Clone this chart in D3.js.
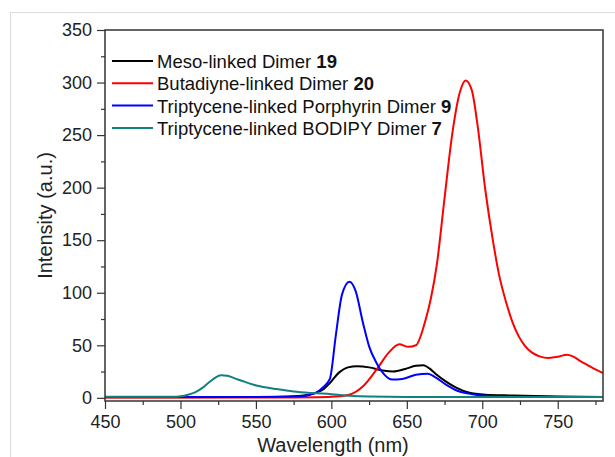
<!DOCTYPE html>
<html>
<head>
<meta charset="utf-8">
<script src="https://cdn.jsdelivr.net/npm/d3@7"></script>
<style>
  body { margin: 0; background: #fff; }
  svg { font-family: "Liberation Sans", Arial, sans-serif; }
  .axis path, .axis line { stroke: #333; stroke-width: 1.2; }
  .axis text { font-size: 18px; fill: #222; }
</style>
</head>
<body>
<svg width="615" height="457"></svg>
<script>
// spectra: [wavelength nm, intensity a.u.]
var meso19 = [[450,0.5],[500,0.5],[560,0.8],[580,2],[590,5],[595,8.5],[599,14],[605,24],[611,29],[617,30],[625,29],[634,26],[641,25],[649,27.5],[656,30.5],[661,31],[665,28],[669,23],[676,15.5],[683,9.5],[691,5],[702,3],[720,2.2],[750,1.2],[780,0.8]];
var butadiyne20 = [[450,0.3],[550,0.3],[590,0.5],[605,1.5],[612,3],[621,11],[630,27],[638,43],[645,51],[651,48.5],[656,50],[662,72],[666,95],[670,128],[675,190],[680,250],[685,290],[689,302],[693,293],[697,258],[702,198],[707,150],[711,118],[716,90],[720,72],[724,59],[728,50],[733,43],[738,39.5],[744,38],[750,39],[756,41],[760,39.5],[765,35],[770,31],[775,27],[780,23.5]];
var porphyrin9 = [[450,0.8],[550,0.8],[580,1.5],[586,3],[590,5],[594,9.5],[599,18],[603,60],[607,98],[612,110.5],[616,102],[621,71],[625,49],[630,33],[634,24],[640,17.5],[647,18],[656,22],[664,23],[669,19.5],[676,12.5],[683,7],[691,4],[702,2],[730,1],[780,0.8]];
var bodipy7 = [[450,1],[495,1],[500,1.5],[505,3],[510,5.5],[515,10],[520,16],[524,20],[527,21.5],[531,21],[536,18.5],[541,16],[546,13.5],[551,11.5],[563,8.5],[575,6],[588,4.5],[600,3.5],[612,2],[625,1.2],[650,0.8],[780,0.8]];

var seriesNames = ["Meso-linked Dimer ", "Butadiyne-linked Dimer ", "Triptycene-linked Porphyrin Dimer ", "Triptycene-linked BODIPY Dimer "];
var seriesNumbers = ["19", "20", "9", "7"];
var seriesColors = ["#000000", "#ff0000", "#0000ff", "#108080"];
var allSeries = [meso19, butadiyne20, porphyrin9, bodipy7];

var xTicks = [450, 500, 550, 600, 650, 700, 750];
var yTicks = [0, 50, 100, 150, 200, 250, 300, 350];

var svg = d3.select("svg");

// light frame around the figure
svg.append("rect")
    .attr("x", 10.5).attr("y", 12.5)
    .attr("width", 700).attr("height", 600)
    .attr("fill", "none").attr("stroke", "#dcdcdc");

var pLeft = 105, pRight = 603, pTop = 30, pBottom = 401;

var x = d3.scaleLinear().domain([450, 780]).range([pLeft, pRight]);
var y = d3.scaleLinear().domain([-3, 350]).range([pBottom, pTop]);

var minorX = d3.range(475, 781, 50);
var minorY = d3.range(25, 350, 50);

// minor ticks
svg.append("g").attr("class", "axis")
    .attr("transform", "translate(0," + pBottom + ")")
    .call(d3.axisBottom(x).tickValues(minorX).tickSize(4).tickFormat(""))
    .call(g => g.select(".domain").remove());
svg.append("g").attr("class", "axis")
    .attr("transform", "translate(" + pLeft + ",0)")
    .call(d3.axisLeft(y).tickValues(minorY).tickSize(4).tickFormat(""))
    .call(g => g.select(".domain").remove());

// major ticks with labels
svg.append("g").attr("class", "axis")
    .attr("transform", "translate(0," + pBottom + ")")
    .call(d3.axisBottom(x).tickValues(xTicks).tickSize(8).tickSizeOuter(0).tickPadding(6).tickFormat(d3.format("d")))
    .call(g => g.select(".domain").remove());
svg.append("g").attr("class", "axis")
    .attr("transform", "translate(" + pLeft + ",0)")
    .call(d3.axisLeft(y).tickValues(yTicks).tickSize(8).tickSizeOuter(0).tickPadding(5).tickFormat(d3.format("d")))
    .call(g => g.select(".domain").remove());

var line = d3.line()
    .x(d => x(d[0]))
    .y(d => y(d[1]))
    .curve(d3.curveMonotoneX);

var plot = svg.append("g");
plot.append("defs").append("clipPath").attr("id", "clip")
  .append("rect").attr("x", pLeft).attr("y", pTop).attr("width", pRight - pLeft).attr("height", pBottom - pTop);

allSeries.forEach(function(s, i) {
  plot.append("path")
      .datum(s)
      .attr("clip-path", "url(#clip)")
      .attr("fill", "none")
      .attr("stroke", seriesColors[i])
      .attr("stroke-width", 2)
      .attr("d", line);
});

// plot frame
svg.append("rect")
    .attr("x", pLeft).attr("y", pTop)
    .attr("width", pRight - pLeft).attr("height", pBottom - pTop)
    .attr("fill", "none").attr("stroke", "#333").attr("stroke-width", 1.5);

// legend
var legend = svg.append("g");
seriesNames.forEach(function(name, i) {
  var ly = 61 + i * 22.3;
  legend.append("line")
      .attr("x1", 112).attr("x2", 153)
      .attr("y1", ly).attr("y2", ly)
      .attr("stroke", seriesColors[i]).attr("stroke-width", 2);
  var t = legend.append("text")
      .attr("x", 157).attr("y", ly + 7)
      .attr("font-size", 18.5).attr("fill", "#111");
  t.append("tspan").text(name);
  t.append("tspan").attr("font-weight", "bold").text(seriesNumbers[i]);
});

// axis titles
svg.append("text")
    .attr("x", 333).attr("y", 452)
    .attr("text-anchor", "middle")
    .attr("font-size", 20).attr("fill", "#222")
    .text("Wavelength (nm)");
svg.append("text")
    .attr("transform", "translate(52," + ((pTop + pBottom) / 2) + ") rotate(-90)")
    .attr("text-anchor", "middle")
    .attr("font-size", 20).attr("fill", "#222")
    .text("Intensity (a.u.)");
</script>
</body>
</html>
